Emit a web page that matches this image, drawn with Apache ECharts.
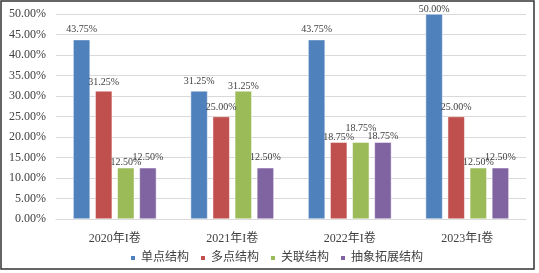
<!DOCTYPE html>
<html>
<head>
<meta charset="utf-8">
<script src="https://cdn.jsdelivr.net/npm/echarts@6/dist/echarts.min.js"></script>
<style>
html, body { margin: 0; padding: 0; background: #fff; }
#main { width: 539px; height: 273px; }
</style>
</head>
<body>
<div id="main"></div>
<script>
var categories = ['2020年I卷', '2021年I卷', '2022年I卷', '2023年I卷'];
var seriesNames = ['单点结构', '多点结构', '关联结构', '抽象拓展结构'];
var singlePoint = [43.75, 31.25, 43.75, 50.00];
var multiPoint = [31.25, 25.00, 18.75, 25.00];
var related = [12.50, 31.25, 18.75, 12.50];
var abstractExt = [12.50, 12.50, 18.75, 12.50];

var fontFam = '"Liberation Serif", "Noto Sans CJK SC", serif';

var chart = echarts.init(document.getElementById('main'));

// nudge a few labels the way the original (Excel) placed them
function mkSeries(name, data, dist, layoutFn) {
    return {
        name: name,
        type: 'bar',
        data: data,
        barWidth: 17,
        barGap: '30%',
        itemStyle: { borderColor: '#fff', borderWidth: 0.5 },
        label: {
            show: true,
            position: 'top',
            distance: dist,
            color: '#404040',
            fontSize: 10,
            fontFamily: fontFam,
            formatter: function (p) { return p.value.toFixed(2) + '%'; }
        },
        labelLayout: layoutFn
    };
}

chart.setOption({
    animation: false,
    color: ['#4f81bd', '#c0504d', '#9bbb59', '#8064a2'],
    graphic: [{
        type: 'rect',
        shape: { x: 1, y: 1, width: 533, height: 268 },
        style: { fill: 'none', stroke: '#333', lineWidth: 1.5 },
        silent: true
    }],
    grid: { left: 56, right: 13, top: 14, bottom: 54 },
    legend: {
        top: 247,
        left: 124,
        itemWidth: 6,
        itemHeight: 6,
        itemGap: 10,
        icon: 'rect',
        textStyle: { fontSize: 12, color: '#404040', fontFamily: fontFam },
        data: seriesNames
    },
    xAxis: {
        type: 'category',
        data: categories,
        axisLine: { lineStyle: { color: '#d9d9d9' } },
        axisTick: { show: false },
        axisLabel: { color: '#404040', fontSize: 12, fontFamily: fontFam, margin: 14 }
    },
    yAxis: {
        type: 'value',
        min: 0,
        max: 50,
        interval: 5,
        axisLine: { show: false },
        axisTick: { show: false },
        splitLine: { lineStyle: { color: '#d9d9d9' } },
        axisLabel: {
            color: '#404040',
            fontSize: 12,
            fontFamily: fontFam,
            margin: 10,
            formatter: function (v) { return v.toFixed(2) + '%'; }
        }
    },
    series: [
        mkSeries(seriesNames[0], singlePoint, 5, function (p) {
            return p.labelRect.y < 4 ? { dy: 5 } : {};
        }),
        mkSeries(seriesNames[1], multiPoint, 4, function (p) {
            return p.dataIndex === 2 ? { dy: 4 } : {};
        }),
        mkSeries(seriesNames[2], related, 0, function (p) {
            return p.dataIndex === 2 ? { dy: -9 } : {};
        }),
        mkSeries(seriesNames[3], abstractExt, 5, function (p) {
            return p.dataIndex === 2 ? { dy: 4 } : {};
        })
    ]
});
</script>
</body>
</html>
